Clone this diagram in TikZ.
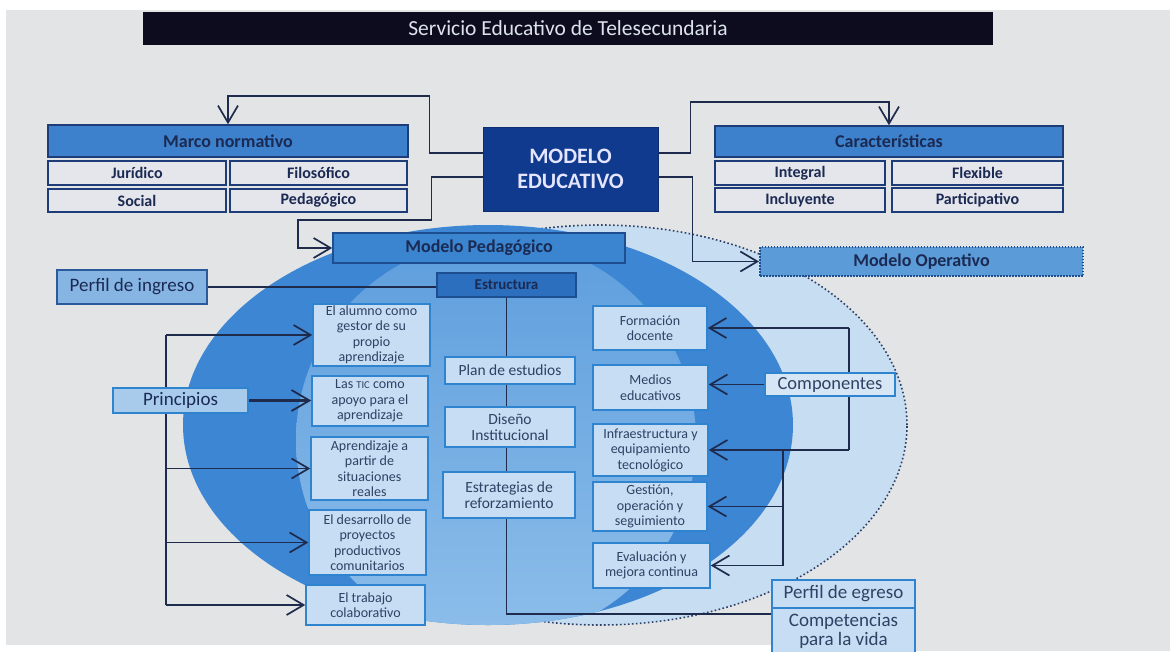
\documentclass[tikz,border=0pt]{standalone}
\usepackage{fontspec}
\setmainfont{Carlito}
\usetikzlibrary{arrows.meta,calc}
\definecolor{bgc}{HTML}{E3E4E6}
\definecolor{titlec}{HTML}{0C0C1E}
\definecolor{titletext}{HTML}{DDE2EC}
\definecolor{navy}{HTML}{1B2A52}
\definecolor{linec}{HTML}{1E2B4C}
\definecolor{headfill}{HTML}{3D80CB}
\definecolor{headdraw}{HTML}{1E3C78}
\definecolor{subfill}{HTML}{E4E6EC}
\definecolor{modfill}{HTML}{0F3A8D}
\definecolor{mpfill}{HTML}{3A84D0}
\definecolor{mpdraw}{HTML}{1D4F90}
\definecolor{estrfill}{HTML}{2C6FBE}
\definecolor{mopfill}{HTML}{5B9BD8}
\definecolor{pinfill}{HTML}{86B5E3}
\definecolor{pindraw}{HTML}{2A5A9A}
\definecolor{princfill}{HTML}{A8CBEC}
\definecolor{infill}{HTML}{C6DDF3}
\definecolor{indraw}{HTML}{2E84CE}
\definecolor{intext}{HTML}{2F4164}
\definecolor{compfill}{HTML}{D6E6F5}
\definecolor{darkell}{HTML}{3D86D3}
\definecolor{lightA}{HTML}{5E9EDD}
\definecolor{lightB}{HTML}{8DBEEA}
\definecolor{dotfill}{HTML}{C7DDF1}
\definecolor{dotline}{HTML}{2B3F68}
\pgfdeclarelayer{bg}
\pgfdeclarelayer{lines}
\pgfsetlayers{bg,lines,main}
\begin{document}
\begin{tikzpicture}[x=1pt,y=-1pt,
  every node/.style={inner sep=0pt, align=center},
  sz/.style 2 args={minimum width=#1pt, minimum height=#2pt},
  titlebox/.style={fill=titlec, text=titletext, font=\fontsize{21.5}{24}\selectfont},
  headbox/.style={draw=headdraw, fill=headfill, line width=1.5pt, text=navy, font=\fontsize{18}{20}\selectfont\bfseries},
  subbox/.style={draw=headdraw, fill=subfill, line width=1.5pt, text=navy, font=\fontsize{16}{18}\selectfont\bfseries},
  modbox/.style={fill=modfill, draw=modfill!80!black, line width=1pt, text=white!90!blue, font=\fontsize{22}{25}\selectfont\bfseries},
  mpbox/.style={draw=mpdraw, fill=mpfill, line width=1.5pt, text=navy, font=\fontsize{18}{20}\selectfont\bfseries},
  mopbox/.style={draw=mpdraw, fill=mopfill, line width=2pt, dash pattern=on 1.5pt off 1.5pt, text=navy, font=\fontsize{18}{20}\selectfont\bfseries},
  estrbox/.style={draw=mpdraw, fill=estrfill, line width=1.5pt, text=navy, font=\fontsize{15}{17}\selectfont\bfseries},
  pinbox/.style={draw=pindraw, fill=pinfill, line width=1.5pt, text=navy, font=\fontsize{19}{21}\selectfont},
  princbox/.style={draw=indraw, fill=princfill, line width=1.5pt, text=navy, font=\fontsize{19}{21}\selectfont},
  inbox/.style={draw=indraw, fill=infill, line width=1.5pt, text=intext, font=\fontsize{14}{15.4}\selectfont},
  midbox/.style={draw=indraw, fill=infill, line width=1.5pt, text=intext, font=\fontsize{15.5}{16.5}\selectfont},
  compbox/.style={draw=indraw, fill=compfill, line width=1.5pt, text=intext, font=\fontsize{18.5}{20}\selectfont},
  egbox/.style={draw=indraw, fill=infill, line width=1.5pt, text=intext, font=\fontsize{19}{18.5}\selectfont},
  conn/.style={draw=linec, line width=1.7pt},
  arr/.style={conn, -{Straight Barb[length=17pt,width=20pt]}},
  thickarr/.style={draw=linec, line width=3.5pt, -{Straight Barb[length=18pt,width=21pt,line width=1.8pt 0]}}
]
\useasboundingbox (0,0) rectangle (1170,651);
\begin{pgfonlayer}{bg}
\fill[white] (0,0) rectangle (1170,651);
\fill[bgc] (6,10) rectangle (1170,651);
\fill[white] (0,645) rectangle (772,651);
\filldraw[fill=dotfill, draw=dotline, line width=1.6pt, dash pattern=on 1.6pt off 2.4pt] (600,425) ellipse [x radius=307pt, y radius=200pt];
\fill[darkell] (488,425) ellipse [x radius=305pt, y radius=200pt];
\begin{scope}
\clip (488,425) ellipse [x radius=305pt, y radius=200pt];
\shade[top color=lightA, bottom color=lightB] (496,440) ellipse [x radius=200pt, y radius=200pt];
\end{scope}
\end{pgfonlayer}

\node[titlebox, sz={850}{33}] (title) at (568,28.5) {Servicio Educativo de Telesecundaria};

\node[headbox, sz={360}{32}] (marco) at (228,141) {Marco normativo};
\node[subbox, sz={178}{24}] (jur) at (137,173) {Jurídico};
\node[subbox, sz={177}{24}] (filo) at (318.5,173) {Filosófico};
\node[subbox, sz={178}{23}] (soc) at (137,200.5) {Social};
\node[subbox, sz={177}{23}] (ped) at (318.5,200.5) {Pedagógico};

\node[modbox, sz={175}{84}] (modelo) at (570.5,169) {MODELO\\EDUCATIVO};

\node[headbox, sz={348}{31}] (car) at (889,141.5) {Características};
\node[subbox, sz={170}{24}] (integral) at (800,173) {Integral};
\node[subbox, sz={171}{24}] (flex) at (977.5,173) {Flexible};
\node[subbox, sz={170}{24}] (incl) at (800,200) {Incluyente};
\node[subbox, sz={171}{24}] (part) at (977.5,200) {Participativo};

\node[mpbox, sz={292}{30}] (mped) at (479,248) {Modelo Pedagógico};
\node[mopbox, sz={323}{29}] (mop) at (921.5,261.5) {Modelo Operativo};
\node[estrbox, sz={139}{24}] (estr) at (506.5,285) {Estructura};
\node[pinbox, sz={150}{34}] (pin) at (132,287) {Perfil de ingreso};
\node[princbox, sz={135}{25}] (princ) at (180.5,400.5) {Principios};

\node[inbox, sz={117}{62}] (p1) at (371.5,335) {El alumno como\\gestor de su\\propio\\aprendizaje};
\node[inbox, sz={116}{50}] (p2) at (370,401) {Las {\fontsize{10.5}{12}\selectfont TIC} como\\apoyo para el\\aprendizaje};
\node[inbox, sz={117}{63}] (p3) at (369.5,468.5) {Aprendizaje a\\partir de\\situaciones\\reales};
\node[inbox, sz={117}{65}] (p4) at (367.5,542.5) {El desarrollo de\\proyectos\\productivos\\comunitarios};
\node[inbox, sz={119}{40}] (p5) at (365.5,605) {El trabajo\\colaborativo};

\node[midbox, sz={130}{27}] (plan) at (510,370.5) {Plan de estudios};
\node[midbox, sz={130}{40}] (dis) at (510,427) {Diseño\\Institucional};
\node[midbox, sz={132}{46}] (estrat) at (509,495) {Estrategias de\\reforzamiento};

\node[inbox, sz={114}{44}] (form) at (650,328) {Formación\\docente};
\node[inbox, sz={115}{45}] (medios) at (650.5,387.5) {Medios\\educativos};
\node[inbox, sz={115}{52}] (infra) at (650.5,450) {Infraestructura y\\equipamiento\\tecnológico};
\node[inbox, sz={114}{49}] (gest) at (650,506.5) {Gestión,\\operación y\\seguimiento};
\node[inbox, sz={117}{45}] (eval) at (651.5,565.5) {Evaluación y\\mejora continua};

\node[compbox, sz={130}{23}] (comp) at (830,384.5) {Componentes};
\node[egbox, sz={143}{28}] (pegr) at (843.5,594) {Perfil de egreso};
\node[egbox, sz={143}{46}] (compv) at (843.5,631) {Competencias\\para la vida};

\coordinate (trunk) at (166,0);
\coordinate (cvA) at (849,0);
\coordinate (cvB) at (783,0);

\begin{pgfonlayer}{lines}
\draw[arr] ([yshift=16pt]modelo.west) -- ++(-53,0) |- ([yshift=28pt]marco.north) -- (marco.north);
\draw[arr] ([yshift=-8pt]modelo.west) -- ++(-51,0) -- ++(0,43) -| ([xshift=-34pt]mped.west) -- (mped.west);
\draw[arr] ([yshift=16pt]modelo.east) -- ++(32,0) |- ([yshift=23pt]car.north) -- (car.north);
\draw[arr] ([yshift=-8pt]modelo.east) -- ++(34,0) |- (mop.west);
\draw[conn] (pin.east) -- (pin.east -| estr.west);

\draw[conn] (trunk |- p1.west) -- (trunk |- p5.west);
\draw[arr] (trunk |- p1.west) -- (p1.west);
\draw[arr] (trunk |- p3.west) -- (p3.west);
\draw[arr] (trunk |- p4.west) -- (p4.west);
\draw[arr] (trunk |- p5.west) -- (p5.west);
\draw[thickarr] (princ.east) -- (princ.east -| p2.west);

\draw[conn] (estr.south) |- ([yshift=-7pt]compv.north west);

\draw[arr] (comp.west) -- (comp.west -| medios.east);
\draw[conn] (cvA |- form.east) -- (cvA |- infra.east);
\draw[arr] (cvA |- form.east) -- (form.east);
\draw[arr] (cvA |- infra.east) -- (infra.east);
\draw[conn] (cvB |- infra.east) -- (cvB |- eval.east);
\draw[arr] (cvB |- gest.east) -- (gest.east);
\draw[arr] (cvB |- eval.east) -- (eval.east);
\end{pgfonlayer}
\end{tikzpicture}
\end{document}
